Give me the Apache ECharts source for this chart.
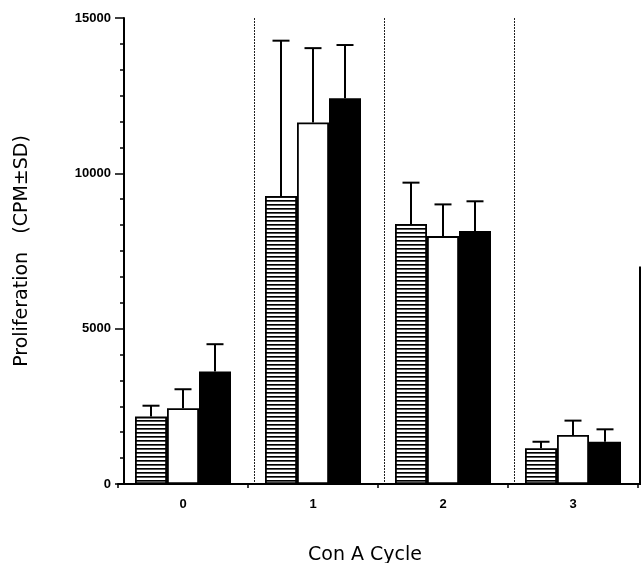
<!DOCTYPE html>
<html>
<head>
<meta charset="utf-8">
<script src="https://cdn.jsdelivr.net/npm/echarts@6/dist/echarts.min.js"></script>
<style>html,body{margin:0;padding:0;background:#fff}#c{width:641px;height:563px}</style>
</head>
<body>
<div id="c"></div>
<script>
// Data
const categories = ['0', '1', '2', '3'];
const hatchedMean = [2170, 9270, 8370, 1150];
const hatchedSD   = [350, 5000, 1330, 210];
const whiteMean   = [2440, 11640, 7980, 1580];
const whiteSD     = [610, 2390, 1020, 460];
const blackMean   = [3620, 12420, 8140, 1360];
const blackSD     = [880, 1710, 960, 400];
const yTicks = [0, 5000, 10000, 15000];

const chart = echarts.init(document.getElementById('c'), null, {renderer: 'canvas'});

// horizontal-line hatch pattern
const pc = document.createElement('canvas');
pc.width = 4; pc.height = 4;
const pctx = pc.getContext('2d');
pctx.fillStyle = '#fff'; pctx.fillRect(0, 0, 4, 4);
pctx.fillStyle = '#000'; pctx.fillRect(0, 0, 4, 1);
pctx.fillStyle = '#555'; pctx.fillRect(0, 1, 4, 1);

const BAR_W = 32;
const fontFam = '"DejaVu Sans", Arial, sans-serif';
const tickFont = '"Liberation Sans", Arial, sans-serif';

function errSeries(name, means, sds, idx) {
  return {
    type: 'custom', name: name + ' SD', xAxisIndex: 0, yAxisIndex: 0, z: 1,
    data: means.map((m, i) => [i, m, m + sds[i]]),
    renderItem: function (params, api) {
      const base = api.coord([api.value(0), api.value(1)]);
      const top = api.coord([api.value(0), api.value(2)]);
      const x = base[0] + (idx - 1) * BAR_W;
      const st = {stroke: '#000', lineWidth: 2};
      return {type: 'group', children: [
        {type: 'line', shape: {x1: x, y1: base[1], x2: x, y2: top[1]}, style: st},
        {type: 'line', shape: {x1: x - 8.5, y1: top[1], x2: x + 8.5, y2: top[1]}, style: st}
      ]};
    }
  };
}

const option = {
  animation: false,
  backgroundColor: '#fff',
  grid: [
    {left: 118, top: 18, width: 520, height: 466, containLabel: false, outerBoundsMode: 'none'},
    {left: 124, top: 18, width: 520, height: 466, containLabel: false, outerBoundsMode: 'none'}
  ],
  xAxis: [
    {
      type: 'category', gridIndex: 0, data: categories,
      name: 'Con A Cycle', nameLocation: 'middle', nameGap: 62,
      nameTextStyle: {fontFamily: fontFam, fontSize: 19, color: '#000', padding: [0, 26, 0, 0]},
      axisLine: {lineStyle: {color: '#000', width: 2}},
      axisTick: {show: true, length: 4, lineStyle: {color: '#000', width: 1.5}},
      axisLabel: {fontFamily: tickFont, fontSize: 13, fontWeight: 'bold', color: '#000', margin: 14},
      splitLine: {show: false}
    },
    {
      type: 'category', gridIndex: 1, data: categories, position: 'top',
      axisLine: {show: true, lineStyle: {color: '#000', width: 2}},
      axisTick: {show: false}, axisLabel: {show: false},
      splitLine: {show: true, lineStyle: {color: '#222', width: 1, type: [2, 1]}}
    }
  ],
  yAxis: [
    {type: 'value', gridIndex: 0, min: 0, max: 15000, interval: 5000, show: false},
    {
      type: 'value', gridIndex: 1, min: 0, max: 15000, interval: 5000,
      name: 'Proliferation   (CPM±SD)', nameLocation: 'middle', nameGap: 92,
      nameTextStyle: {fontFamily: fontFam, fontSize: 19, color: '#000'},
      axisLine: {show: true, lineStyle: {color: '#000', width: 2}},
      axisTick: {show: true, length: 9, lineStyle: {color: '#000', width: 1.5}},
      minorTick: {show: true, splitNumber: 6, length: 4, lineStyle: {color: '#000', width: 1.5}},
      axisLabel: {fontFamily: tickFont, fontSize: 13, fontWeight: 'bold', color: '#000', margin: 13,
        formatter: v => yTicks.indexOf(v) >= 0 ? String(v) : ''},
      splitLine: {show: false}
    }
  ],
  series: [
    {type: 'bar', name: 'hatched', data: hatchedMean, barWidth: BAR_W, barGap: '0%', z: 2,
      itemStyle: {color: {image: pc, repeat: 'repeat'}, borderColor: '#000', borderWidth: 1.8}},
    {type: 'bar', name: 'open', data: whiteMean, barWidth: BAR_W, barGap: '0%', z: 2,
      itemStyle: {color: '#fff', borderColor: '#000', borderWidth: 1.8}},
    {type: 'bar', name: 'solid', data: blackMean, barWidth: BAR_W, barGap: '0%', z: 2,
      itemStyle: {color: '#000', borderColor: '#000', borderWidth: 1.8}},
    errSeries('hatched', hatchedMean, hatchedSD, 0),
    errSeries('open', whiteMean, whiteSD, 1),
    errSeries('solid', blackMean, blackSD, 2)
  ]
};
chart.setOption(option);

// partial right frame line (scan artifact in original) placed through the axis scale
const yTopPx = chart.convertToPixel({yAxisIndex: 1}, 7000);
const yBotPx = chart.convertToPixel({yAxisIndex: 1}, 0);
chart.setOption({graphic: [{type: 'line', shape: {x1: 640, y1: yTopPx, x2: 640, y2: yBotPx},
  style: {stroke: '#000', lineWidth: 2}}]});
</script>
</body>
</html>
